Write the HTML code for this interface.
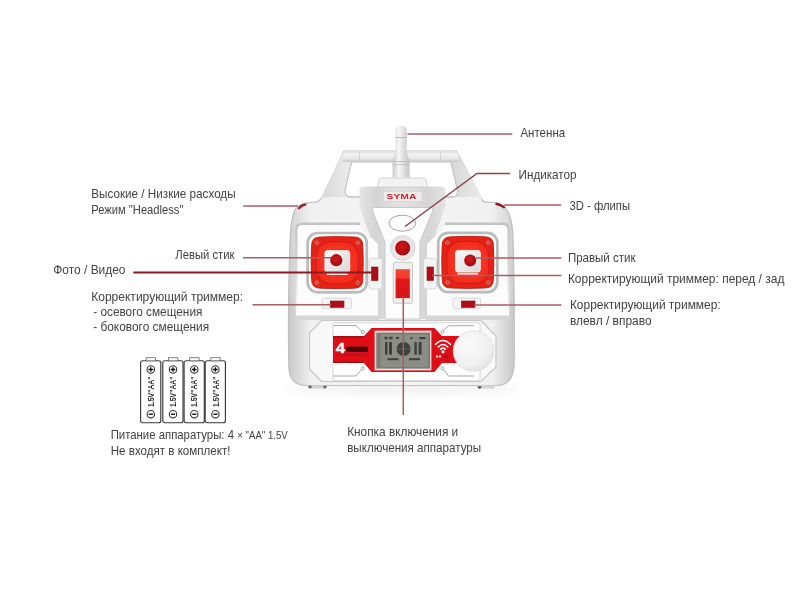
<!DOCTYPE html>
<html><head><meta charset="utf-8">
<style>
html,body{margin:0;padding:0;background:#fff;}
body{width:800px;height:600px;overflow:hidden;position:relative;}
svg{position:absolute;left:0;top:0;}
text{font-family:"Liberation Sans",sans-serif;font-size:12.2px;fill:#424242;}
</style></head><body>
<svg width="800" height="600" viewBox="0 0 800 600">
<defs>
 <linearGradient id="gBody" x1="0" x2="1" y1="0" y2="0">
  <stop offset="0" stop-color="#cbcbcb"/>
  <stop offset="0.025" stop-color="#d8d8d8"/>
  <stop offset="0.06" stop-color="#e4e4e4"/>
  <stop offset="0.1" stop-color="#f0f0f0"/>
  <stop offset="0.5" stop-color="#f6f6f6"/>
  <stop offset="0.9" stop-color="#f0f0f0"/>
  <stop offset="0.94" stop-color="#e4e4e4"/>
  <stop offset="0.975" stop-color="#d8d8d8"/>
  <stop offset="1" stop-color="#cbcbcb"/>
 </linearGradient>
 <linearGradient id="gBar" x1="0" x2="0" y1="0" y2="1">
  <stop offset="0" stop-color="#dedede"/>
  <stop offset="0.3" stop-color="#f4f4f4"/>
  <stop offset="0.7" stop-color="#e6e6e6"/>
  <stop offset="1" stop-color="#c6c6c6"/>
 </linearGradient>
 <linearGradient id="gLeg" x1="0" x2="1" y1="0" y2="0">
  <stop offset="0" stop-color="#d6d6d6"/>
  <stop offset="0.5" stop-color="#e2e2e2"/>
  <stop offset="1" stop-color="#ececec"/>
 </linearGradient>
 <linearGradient id="gAnt" x1="0" x2="1" y1="0" y2="0">
  <stop offset="0" stop-color="#c8c8c8"/>
  <stop offset="0.35" stop-color="#f6f6f6"/>
  <stop offset="1" stop-color="#c4c4c4"/>
 </linearGradient>
 <linearGradient id="gCol" x1="0" x2="1" y1="0" y2="0">
  <stop offset="0" stop-color="#e4e4e4"/>
  <stop offset="0.2" stop-color="#d4d4d4"/>
  <stop offset="0.3" stop-color="#dadada"/>
  <stop offset="0.5" stop-color="#e2e2e2"/>
  <stop offset="0.7" stop-color="#dadada"/>
  <stop offset="0.8" stop-color="#d4d4d4"/>
  <stop offset="1" stop-color="#e4e4e4"/>
 </linearGradient>
 <radialGradient id="gRed" cx="0.5" cy="0.5" r="0.62">
  <stop offset="0" stop-color="#f8301e"/>
  <stop offset="0.55" stop-color="#f02a1c"/>
  <stop offset="0.72" stop-color="#d81c16"/>
  <stop offset="0.82" stop-color="#ec2a1e"/>
  <stop offset="1" stop-color="#e02418"/>
 </radialGradient>
 <radialGradient id="gDot" cx="0.45" cy="0.4" r="0.6">
  <stop offset="0" stop-color="#d41818"/>
  <stop offset="1" stop-color="#a00a12"/>
 </radialGradient>
 <radialGradient id="gBtn" cx="0.4" cy="0.35" r="0.7">
  <stop offset="0" stop-color="#fbfbfb"/>
  <stop offset="0.7" stop-color="#f0f0f0"/>
  <stop offset="1" stop-color="#e2e2e2"/>
 </radialGradient>
 <linearGradient id="gSq" x1="0" x2="1" y1="0" y2="1">
  <stop offset="0" stop-color="#fafafa"/>
  <stop offset="1" stop-color="#d8d8d8"/>
 </linearGradient>
 <linearGradient id="gSl" x1="0" x2="0" y1="0" y2="1">
  <stop offset="0" stop-color="#f44634"/>
  <stop offset="0.31" stop-color="#f03a28"/>
  <stop offset="0.35" stop-color="#e21616"/>
  <stop offset="1" stop-color="#d41212"/>
 </linearGradient>
 <clipPath id="cBody"><path d="M344,151 L456.5,151 L482.5,200.5 Q484,202.3 488,202.3 L495,202.5 Q505,204 509,214 Q512.3,222 512.8,235 Q514.6,280 514.2,362 Q514,385.5 497,385.5 L306,385.5 Q289,385.5 288.8,366 Q287.6,300 290.3,235 Q291,220 294.8,210 Q298,205 305.7,203 L316,201.8 Q320,201 323,196 Z"/></clipPath>
 <linearGradient id="gSideL" x1="0" x2="1" y1="0" y2="0">
  <stop offset="0" stop-color="#c4c4c4" stop-opacity="0.55"/>
  <stop offset="1" stop-color="#d8d8d8" stop-opacity="0"/>
 </linearGradient>
 <linearGradient id="gSideR" x1="1" x2="0" y1="0" y2="0">
  <stop offset="0" stop-color="#c4c4c4" stop-opacity="0.55"/>
  <stop offset="1" stop-color="#d8d8d8" stop-opacity="0"/>
 </linearGradient>
 <filter id="blur2"><feGaussianBlur stdDeviation="2.5"/></filter>
 <filter id="blur4" x="-20%" y="-100%" width="140%" height="300%"><feGaussianBlur stdDeviation="5"/></filter>
 <filter id="blt"><feGaussianBlur stdDeviation="0.25"/></filter>
 <filter id="bl"><feGaussianBlur stdDeviation="0.45"/></filter>
</defs>

<!-- shadow under controller -->
<ellipse cx="402" cy="388" rx="118" ry="6" fill="#f1f1f1" filter="url(#blur4)"/>

<g filter="url(#bl)">
<!-- body + handle silhouette with hole -->
<path fill-rule="evenodd" d="M344,151 L456.5,151 L482.5,200.5 Q484,202.3 488,202.3 L495,202.5 Q505,204 509,214 Q512.3,222 512.8,235 Q514.6,280 514.2,362 Q514,385.5 497,385.5 L306,385.5 Q289,385.5 288.8,366 Q287.6,300 290.3,235 Q291,220 294.8,210 Q298,205 305.7,203 L316,201.8 Q320,201 323,196 Z M351.5,162 L451,162 L457.5,190 Q458.5,197 452,197 L351,197 Q344,197 345,190 Z" fill="url(#gBody)" stroke="#bcc0c0" stroke-width="1.2"/>
<!-- handle legs -->
<path d="M344,151 L351.5,162 L345,190 Q344.5,195 347,197 L324,197 Q322,198 320,200 Z" fill="url(#gLeg)"/>
<path d="M456.5,151 L451,162 L457.5,190 Q458,195 455.5,197 L479,197 Q481,198 483,200 Z" fill="url(#gLeg)" transform="translate(0,0)"/>
<!-- handle bar -->
<path d="M346,151 L455,151 Q457.5,151 458,154 L459.5,162 L342.5,162 L344,154 Q344.5,151 346,151 Z" fill="url(#gBar)"/>
<line x1="359.5" y1="151.5" x2="359.5" y2="161.5" stroke="#d0d0d0" stroke-width="0.9"/>
<line x1="440.5" y1="151.5" x2="440.5" y2="161.5" stroke="#d0d0d0" stroke-width="0.9"/>
<!-- inner hole outline -->
<path d="M351.5,162 L345,190 Q344.5,197 351,197 L360,197" fill="none" stroke="#c4c4c4" stroke-width="1"/>
<path d="M451,162 L457.5,190 Q458.5,197 452,197 L445,197" fill="none" stroke="#c4c4c4" stroke-width="1"/>

<g clip-path="url(#cBody)">
 <rect x="288" y="300" width="22" height="90" fill="url(#gSideL)"/>
 <rect x="494" y="300" width="21" height="90" fill="url(#gSideR)"/>
</g>
<!-- antenna -->
<path d="M395.5,131 Q395.5,126 401.2,126 Q407,126 407,131 L406.7,150 Q407,156 409.6,160 L409.6,177.5 L392.6,177.5 L392.6,160 Q395.3,156 395.7,150 Z" fill="url(#gAnt)"/>
<line x1="395.6" y1="137.5" x2="406.9" y2="137.5" stroke="#b4b4b4" stroke-width="0.9"/>
<line x1="392.6" y1="161.6" x2="409.6" y2="161.6" stroke="#b8b8b8" stroke-width="0.9"/>
<line x1="392.6" y1="164.6" x2="409.6" y2="164.6" stroke="#c2c2c2" stroke-width="0.9"/>

<!-- upper side panels (stick faces) -->
<defs>
 <linearGradient id="gEdge" x1="0" x2="0" y1="0" y2="1">
  <stop offset="0" stop-color="#c4c4c4"/>
  <stop offset="0.5" stop-color="#d6d6d6"/>
  <stop offset="1" stop-color="#e8e8e8" stop-opacity="0.3"/>
 </linearGradient>
</defs>
<path d="M296,230 Q296,223.5 302.5,223.5 L358,223.5 L368,236 L378,244 L378,316 L296,316 Z" fill="#fcfcfc"/>
<path d="M509,230 Q509,223.5 502.5,223.5 L447,223.5 L437,236 L427,244 L427,316 L509,316 Z" fill="#fcfcfc"/>
<path d="M296.3,312 L296.3,230 Q296.3,223.8 302.5,223.8 L360,223.8" fill="none" stroke="url(#gEdge)" stroke-width="2.4"/>
<path d="M508.7,312 L508.7,230 Q508.7,223.8 502.5,223.8 L445,223.8" fill="none" stroke="url(#gEdge)" stroke-width="2.4"/>
<rect x="296" y="315.5" width="83" height="4.5" fill="#d6d6d6"/>
<rect x="426" y="315.5" width="83" height="4.5" fill="#d6d6d6"/>

<!-- central gray column -->
<path d="M363.5,186.5 L441.5,186.5 Q445.5,186.5 445.5,190.5 L445.5,206 L435,236 L427,244 L427,319 L378,319 L378,244 L370,236 L359.5,206 L359.5,190.5 Q359.5,186.5 363.5,186.5 Z" fill="url(#gCol)"/>
<!-- top piece -->
<path d="M381,178 L424,178 Q425.5,178 426,180 L427.5,187 L377.5,187 L379,180 Q379.5,178 381,178 Z" fill="#f3f3f3" stroke="#cccccc" stroke-width="0.8"/>
<!-- SYMA plate -->
<rect x="383.5" y="191.5" width="38.5" height="10" fill="#ececec" stroke="#d2d2d2" stroke-width="0.6"/>
<text x="386.6" y="199.3" textLength="29.8" lengthAdjust="spacingAndGlyphs" style="font-size:7.2px;font-weight:bold;fill:#d42424">SYMA</text>

<!-- central white panel -->
<path d="M375,207.5 L430,207.5 Q433.5,207.5 432.5,211 L420,242 L420,319 L385,319 L385,242 L372.5,211 Q371.5,207.5 375,207.5 Z" fill="#fdfdfd" stroke="#c8c8c8" stroke-width="1"/>

<!-- indicator oval -->
<ellipse cx="402.3" cy="223.2" rx="13.4" ry="8" fill="#fbfbfb" stroke="#9c9c9c" stroke-width="0.9"/>
<!-- power button -->
<circle cx="402.7" cy="248" r="12.4" fill="#e4e4e4" stroke="#d0d0d0" stroke-width="0.8"/>
<circle cx="402.7" cy="248" r="9.3" fill="#f6e8e6"/>
<circle cx="402.7" cy="248" r="7.6" fill="url(#gDot)"/>
<!-- throttle slider -->
<rect x="393.3" y="262.3" width="19.2" height="40.9" rx="1.5" fill="#efefef" stroke="#c4c4c4" stroke-width="0.9"/>
<rect x="395.6" y="269.2" width="14.2" height="28.9" fill="url(#gSl)"/>

<!-- stick wells -->
<defs>
 <radialGradient id="gRed2" cx="0.5" cy="0.5" r="0.5">
  <stop offset="0" stop-color="#fa3322"/>
  <stop offset="0.62" stop-color="#f42c1e"/>
  <stop offset="0.74" stop-color="#d41814"/>
  <stop offset="0.8" stop-color="#ea2519"/>
  <stop offset="1" stop-color="#e42219"/>
 </radialGradient>
 <radialGradient id="gRed3" cx="0.5" cy="0.5" r="0.6">
  <stop offset="0" stop-color="#fc3a28"/>
  <stop offset="0.8" stop-color="#f42e1e"/>
  <stop offset="1" stop-color="#e82618"/>
 </radialGradient>
 <g id="stick">
  <rect x="-29.55" y="-29.6" width="59.1" height="59.3" rx="10" fill="#fefefe" stroke="#b9bcbc" stroke-width="2.7"/>
  <path d="M-17.1,-25.6 Q0,-26.5 17.1,-25.6 Q25.6,-25.6 25.6,-17.1 Q26.5,0 25.6,17.1 Q25.6,25.6 17.1,25.6 Q0,26.5 -17.1,25.6 Q-25.6,25.6 -25.6,17.1 Q-26.5,0 -25.6,-17.1 Q-25.6,-25.6 -17.1,-25.6 Z" fill="#e62418"/>
  <path d="M-17.1,-25.6 Q0,-26.5 17.1,-25.6 Q25.6,-25.6 25.6,-17.1 Q26.5,0 25.6,17.1 Q25.6,25.6 17.1,25.6 Q0,26.5 -17.1,25.6 Q-25.6,25.6 -25.6,17.1 Q-26.5,0 -25.6,-17.1 Q-25.6,-25.6 -17.1,-25.6 Z" fill="none" stroke="#c01410" stroke-width="1" opacity="0.85"/>
  <rect x="-21" y="-21" width="42" height="42" rx="14" fill="url(#gRed3)" stroke="#cc1812" stroke-width="1.1" stroke-opacity="0.75"/>
  <g fill="#a8544a" stroke="#e08070" stroke-width="0.8">
   <circle cx="-20.3" cy="-19.8" r="1.7"/><circle cx="20.6" cy="-19.8" r="1.7"/>
   <circle cx="-20.3" cy="20" r="1.7"/><circle cx="20.6" cy="20" r="1.7"/>
  </g>
  <rect x="-12.3" y="-12" width="24.8" height="21.6" rx="2.5" fill="url(#gSq)" stroke="#f6f6f6" stroke-width="0.9"/>
  <rect x="-10.4" y="10.6" width="20.8" height="1.8" fill="#fde6e2"/>
 </g>
</defs>
<use href="#stick" transform="translate(337.2,262.6)"/>
<use href="#stick" transform="translate(467.8,262.4)"/>
<circle cx="336.3" cy="260.2" r="6.1" fill="url(#gDot)"/>
<circle cx="470.2" cy="260.4" r="6" fill="url(#gDot)"/>

<!-- side trimmers -->
<rect x="369" y="258.5" width="13" height="30.5" rx="2" fill="#f4f4f4" stroke="#d2d2d2" stroke-width="0.8"/>
<rect x="371.5" y="267" width="6.5" height="13.5" fill="#b01018" stroke="#8a0a12" stroke-width="0.6"/>
<rect x="423.5" y="258.5" width="13" height="30.5" rx="2" fill="#f4f4f4" stroke="#d2d2d2" stroke-width="0.8"/>
<rect x="427" y="267" width="6.5" height="13.5" fill="#b01018" stroke="#8a0a12" stroke-width="0.6"/>
<!-- bottom trimmers -->
<rect x="322" y="298" width="29.4" height="10.7" rx="2" fill="#f4f4f4" stroke="#d2d2d2" stroke-width="0.8"/>
<rect x="330.3" y="301" width="13.7" height="6.4" fill="#b01018" stroke="#8a0a12" stroke-width="0.6"/>
<rect x="453" y="298" width="27.6" height="10.7" rx="2" fill="#f4f4f4" stroke="#d2d2d2" stroke-width="0.8"/>
<rect x="461.4" y="301" width="13.6" height="6.4" fill="#b01018" stroke="#8a0a12" stroke-width="0.6"/>

<!-- lower panel -->
<path d="M321.5,320.5 L481,320.5 L496,336 L496,367 L481,381.5 L321.5,381.5 L309.5,369 L309.5,333 Z" fill="#f8f8f8" stroke="#c6c6c6" stroke-width="1.2"/>
<rect x="333" y="322.8" width="147" height="58" rx="2" fill="#ffffff" stroke="#cfcfcf" stroke-width="0.9"/>
<!-- red band -->
<path d="M333,336 L364,336 L371.5,328 L434.5,328 L442,336 L462,336 L462,363 L442,363 L434.5,372 L371.5,372 L364,363 L333,363 Z" fill="#de0c18"/>
<!-- LCD -->
<rect x="374.6" y="330.6" width="56.8" height="39.8" fill="#f2dede"/>
<rect x="376.3" y="332.6" width="53.8" height="36" fill="#7a7d73"/>
<rect x="380.5" y="334.5" width="47.5" height="32.5" fill="#8b8e84"/>
<g fill="#3e403a">
 <rect x="385" y="342" width="2.4" height="12.6"/><rect x="389" y="342" width="3" height="12.6"/>
 <rect x="414.4" y="342" width="2.4" height="12.6"/><rect x="418.6" y="342" width="3" height="12.6"/>
 <circle cx="403.6" cy="349" r="7"/>
 <rect x="384.5" y="336.8" width="3" height="2.4"/><rect x="389" y="336.8" width="3.5" height="2.4"/><rect x="396" y="337" width="3" height="2"/>
 <rect x="410.5" y="337" width="2" height="2.2"/><rect x="419.5" y="337" width="6" height="2.2"/>
 <rect x="387.5" y="358.2" width="11" height="2"/><rect x="409" y="358.2" width="11" height="2"/>
</g>
<g stroke="#6a6c64" stroke-width="0.8"><line x1="396.6" y1="349" x2="410.6" y2="349"/><line x1="403.6" y1="342" x2="403.6" y2="356"/></g>
<!-- 4 channel -->
<rect x="333" y="336" width="30" height="1.6" fill="#8e0a0e" opacity="0.8"/>
<rect x="333" y="361.6" width="30" height="1.4" fill="#8e0a0e" opacity="0.7"/>
<text x="335.8" y="352.8" textLength="9.2" lengthAdjust="spacingAndGlyphs" style="font-size:14.5px;font-weight:bold;fill:#fff;stroke:#fff;stroke-width:0.5">4</text>
<rect x="346.3" y="346.6" width="21.5" height="5.2" fill="#3a0406" opacity="0.9"/>
<rect x="337" y="354.2" width="30" height="1.1" fill="#9a1010" opacity="0.6"/>
<!-- wifi -->
<g fill="none" stroke="#fff" stroke-width="1.6" stroke-linecap="round">
 <path d="M435.5,344.5 Q443,336.5 450.5,344.5"/>
 <path d="M438.2,347 Q443,342 447.8,347"/>
 <path d="M440.6,349.3 Q443,347 445.4,349.3"/>
</g>
<circle cx="443" cy="351.8" r="1.6" fill="#fff"/>
<circle cx="437" cy="356.5" r="1.2" fill="#f8d0d0"/><circle cx="440" cy="356.5" r="1.2" fill="#f8d0d0"/>
<rect x="443" y="355.8" width="5" height="1.6" fill="#7a0a0a" opacity="0.6"/>
<!-- corner lines -->
<g fill="none" stroke="#8a8a8a" stroke-width="0.75">
 <path d="M333.5,325.5 L356,325.5 L361.6,331"/><circle cx="362.8" cy="332" r="1.5"/>
 <path d="M333.5,376 L356,376 L361.6,369.5"/><circle cx="362.8" cy="368.5" r="1.5"/>
 <path d="M474,325.7 L448.5,325.7 L443.5,330.8"/><circle cx="442.5" cy="331.8" r="1.5"/>
 <path d="M474,376 L448.5,376 L443.5,369.5"/><circle cx="442.5" cy="368.4" r="1.5"/>
</g>
<!-- round button -->
<circle cx="473.5" cy="351" r="20.3" fill="url(#gBtn)" stroke="#dadada" stroke-width="0.8"/>
<!-- shoulder buttons -->
<path d="M297.5,208.5 Q300,203.8 306.5,203.2 L306.2,205.6 Q301.5,206.5 299.5,209.5 Z" fill="#9a1a22"/>
<path d="M495.5,202.6 Q502,203.4 505.6,207.6 L503.8,208.6 Q500,205.6 495.5,205 Z" fill="#9a1a22"/>
<!-- feet -->
<rect x="309" y="385.2" width="17" height="3.4" rx="1" fill="#d2d2d2"/>
<ellipse cx="310" cy="387" rx="1.8" ry="1.4" fill="#6a6a6a"/>
<ellipse cx="325" cy="387" rx="1.8" ry="1.4" fill="#6a6a6a"/>
<rect x="478.5" y="385.2" width="16" height="3.4" rx="1" fill="#d2d2d2"/>
<ellipse cx="479.5" cy="387.3" rx="1.8" ry="1.4" fill="#5a5a5a"/>
</g>

<!-- batteries -->
<defs><g id="bat">
 <rect x="0.6" y="0" width="20.2" height="62" rx="2" fill="#fff" stroke="#3a3a3a" stroke-width="1.15"/>
 <rect x="6.2" y="-3.1" width="9.4" height="3.1" fill="#fff" stroke="#666" stroke-width="0.8"/>
 <circle cx="10.8" cy="8.7" r="3.7" fill="none" stroke="#333" stroke-width="1.1"/>
 <path d="M8.5,8.7 H13.1 M10.8,6.4 V11" stroke="#111" stroke-width="1.4"/>
 <circle cx="10.8" cy="53.4" r="3.7" fill="none" stroke="#333" stroke-width="1.1"/>
 <path d="M8.7,53.4 H12.9" stroke="#111" stroke-width="1.4"/>
 <text transform="translate(13.9,46.2) rotate(-90)" textLength="30.6" lengthAdjust="spacingAndGlyphs" style="font-size:8.8px;font-weight:bold;fill:#2a2a2a">1.5V"AA"</text>
</g></defs>
<g filter="url(#blt)">
<use href="#bat" transform="translate(140,360.8)"/>
<use href="#bat" transform="translate(162.2,360.8)"/>
<use href="#bat" transform="translate(183.5,360.8)"/>
<use href="#bat" transform="translate(204.6,360.8)"/>
</g>
<!-- leader lines -->
<g stroke="#a85d66" stroke-width="1.5" fill="none">
 <line x1="407.5" y1="134" x2="512.3" y2="134"/>
 <line x1="504" y1="204.9" x2="561.2" y2="204.9"/>
 <line x1="243.3" y1="205.9" x2="298" y2="205.9"/>
 <line x1="243" y1="257.8" x2="331" y2="257.8"/>
 <line x1="252.5" y1="304.8" x2="331" y2="304.8"/>
 <line x1="476" y1="258.1" x2="561.5" y2="258.1"/>
 <line x1="432" y1="275.5" x2="561.5" y2="275.5"/>
 <line x1="474" y1="305" x2="561.5" y2="305"/>
 <line x1="403.3" y1="297" x2="403.3" y2="415"/>
</g>
<polyline points="405,226.5 477,173.5 510,173.5" stroke="#8c4550" stroke-width="1.5" fill="none"/>
<line x1="133.3" y1="272.6" x2="376" y2="272.6" stroke="#8e1a26" stroke-width="2"/>

<!-- labels -->
<g id="labels" filter="url(#blt)">
<text x="520.4" y="137.2" lengthAdjust="spacingAndGlyphs" textLength="44.8">Антенна</text>
<text x="518.6" y="178.9" lengthAdjust="spacingAndGlyphs" textLength="57.9">Индикатор</text>
<text x="569.5" y="210.2" lengthAdjust="spacingAndGlyphs" textLength="60.5">3D - флипы</text>
<text x="91.3" y="197.5" lengthAdjust="spacingAndGlyphs" textLength="144.3">Высокие / Низкие расходы</text>
<text x="91.3" y="213.5" lengthAdjust="spacingAndGlyphs" textLength="92.1">Режим "Headless"</text>
<text x="175.3" y="258.6" lengthAdjust="spacingAndGlyphs" textLength="59.1">Левый стик</text>
<text x="53.3" y="274.2" lengthAdjust="spacingAndGlyphs" textLength="72.2">Фото / Видео</text>
<text x="91.2" y="300.9" lengthAdjust="spacingAndGlyphs" textLength="151.9">Корректирующий триммер:</text>
<text x="93.2" y="316" lengthAdjust="spacingAndGlyphs" textLength="109.2">- осевого смещения</text>
<text x="93.2" y="331.3" lengthAdjust="spacingAndGlyphs" textLength="116.0">- бокового смещения</text>
<text x="567.9" y="262.2" lengthAdjust="spacingAndGlyphs" textLength="67.6">Правый стик</text>
<text x="567.9" y="282.6" lengthAdjust="spacingAndGlyphs" textLength="216.5">Корректирующий триммер: перед / зад</text>
<text x="569.9" y="309.1" lengthAdjust="spacingAndGlyphs" textLength="150.8">Корректирующий триммер:</text>
<text x="569.9" y="324.6" lengthAdjust="spacingAndGlyphs" textLength="81.7">влевл / вправо</text>
<text x="110.7" y="438.8" lengthAdjust="spacingAndGlyphs" textLength="123.3">Питание аппаратуры: 4</text>
<text x="237.3" y="438.8" lengthAdjust="spacingAndGlyphs" textLength="50.5" style="font-size:11px">× "AA" 1.5V</text>
<text x="110.7" y="455" lengthAdjust="spacingAndGlyphs" textLength="119.8">Не входят в комплект!</text>
<text x="347.2" y="436.3" lengthAdjust="spacingAndGlyphs" textLength="111.0">Кнопка включения и</text>
<text x="347.2" y="451.6" lengthAdjust="spacingAndGlyphs" textLength="134.0">выключения аппаратуры</text>
</g>
</svg>
</body></html>
